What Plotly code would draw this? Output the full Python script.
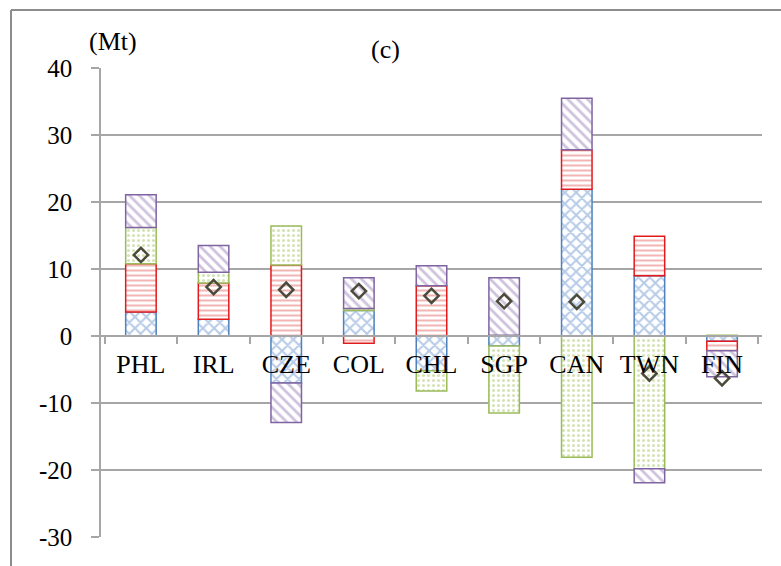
import plotly.graph_objects as go

# Emission change decomposition by economy (Mt)
categories = ["PHL", "IRL", "CZE", "COL", "CHL", "SGP", "CAN", "TWN", "FIN"]

blue_vals = [3.6, 2.5, -7.0, 3.8, -5.2, -1.5, 21.9, 9.0, -0.8]
red_vals = [7.2, 5.4, 10.6, -1.1, 7.5, 0.1, 5.9, 5.9, -1.4]
green_vals = [5.4, 1.6, 5.8, 0.3, -3.0, -10.0, -18.1, -19.8, 0.1]
purple_vals = [4.9, 4.0, -5.9, 4.6, 3.0, 8.6, 7.7, -2.1, -3.9]
net_vals = [12.1, 7.3, 6.9, 6.7, 6.0, 5.2, 5.1, -5.6, -6.3]

y_ticks = [-30, -20, -10, 0, 10, 20, 30, 40]
y_tick_text = ["-30", "-20", "-10", "0", "10", "20", "30", "40"]

series = [
    ("blue", blue_vals, "#4F81BD", "#6F97CF", "x", 8, 0.45),
    ("red", red_vals, "#E31A1C", "#E86A6A", "-", 5, 0.4),
    ("green", green_vals, "#9BBB59", "#A9C76E", ".", 5, 0.3),
    ("purple", purple_vals, "#8064A2", "#9D86BC", "\\", 7, 0.4),
]

serif = "Liberation Serif, Times New Roman, serif"

fig = go.Figure()
for name, vals, edge, fg, shape, psize, solid in series:
    fig.add_trace(go.Bar(
        x=categories, y=vals, name=name,
        marker=dict(
            color="white",
            line=dict(color=edge, width=1.5),
            pattern=dict(shape=shape, fgcolor=fg, bgcolor="white",
                         size=psize, solidity=solid, fillmode="overlay"),
        ),
        showlegend=False,
    ))

fig.add_trace(go.Scatter(
    x=categories, y=net_vals, mode="markers", name="net",
    marker=dict(symbol="diamond-open", size=11,
                color="#4B4B3C", line=dict(color="#4B4B3C", width=2.5)),
    showlegend=False,
))

ymin, ymax = -30, 40

fig.update_layout(
    width=781, height=566,
    margin=dict(l=101, r=19, t=68, b=29),
    paper_bgcolor="white", plot_bgcolor="white",
    barmode="relative", bargap=0.58,
    font=dict(family=serif, size=25, color="black"),
    xaxis=dict(
        anchor="free", position=(0 - ymin) / (ymax - ymin),
        showline=True, linecolor="#A6A6A6", linewidth=1.5,
        ticks="outside", tickson="boundaries", ticklen=7,
        tickcolor="#A6A6A6", tickwidth=1.5,
        tickfont=dict(family=serif, size=26, color="black"),
        ticklabelstandoff=5,
        showgrid=False, zeroline=False,
    ),
    yaxis=dict(
        range=[ymin, ymax], tickvals=y_ticks, ticktext=y_tick_text,
        tickfont=dict(family=serif, size=25, color="black"),
        showline=True, linecolor="#A6A6A6", linewidth=1.5,
        ticks="outside", ticklen=8, tickcolor="#A6A6A6", tickwidth=1.5,
        showgrid=True, gridcolor="#A6A6A6", gridwidth=1.5,
        zeroline=False, ticklabelstandoff=14,
    ),
    annotations=[
        dict(text="(Mt)", xref="paper", yref="paper",
             x=(113 - 101) / 661, y=1 + (68 - 42) / 469,
             xanchor="center", yanchor="middle", showarrow=False,
             font=dict(family=serif, size=26, color="black")),
        dict(text="(c)", xref="paper", yref="paper",
             x=(385 - 101) / 661, y=1 + (68 - 50) / 469,
             xanchor="center", yanchor="middle", showarrow=False,
             font=dict(family=serif, size=26, color="black")),
    ],
    shapes=[
        # outer frame around the panel
        dict(type="line", xref="paper", yref="paper",
             x0=(11 - 101) / 661, x1=(11 - 101) / 661,
             y0=1 + (68 - 10) / 469, y1=-0.2,
             line=dict(color="#8C8C8C", width=2)),
        dict(type="line", xref="paper", yref="paper",
             x0=(11 - 101) / 661, x1=1.1,
             y0=1 + (68 - 10) / 469, y1=1 + (68 - 10) / 469,
             line=dict(color="#8C8C8C", width=2)),
    ],
)

fig.write_html("out.html")
